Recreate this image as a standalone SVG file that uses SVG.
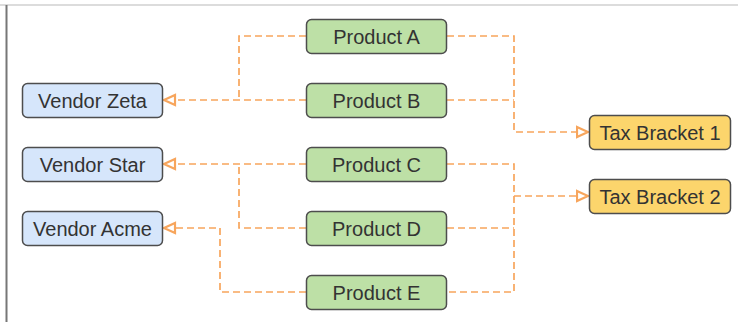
<svg xmlns="http://www.w3.org/2000/svg" width="738" height="322" viewBox="0 0 738 322">
<style>
.node rect{stroke:#4d4d4d;stroke-width:1.5}
.vendor rect{fill:#d6e6fb}
.product rect{fill:#bde0a6}
.tax rect{fill:#fcd56c}
.node text{font-family:"Liberation Sans",Arial,sans-serif;font-size:20px;fill:#333;text-anchor:middle;dominant-baseline:central}
.conn path{fill:none;stroke:#f7a55c;stroke-width:1.7;stroke-dasharray:7 4}
</style>
<defs>
<marker id="tri" viewBox="0 0 14 14" refX="12.5" refY="7" markerWidth="14" markerHeight="14" markerUnits="userSpaceOnUse" orient="auto">
<path d="M1.5,2 L12.5,7 L1.5,12 Z" fill="#fff" stroke="#f7a55c" stroke-width="2.2" stroke-dasharray="none"/>
</marker>
</defs>
<rect width="738" height="322" fill="#fff"/>
<line x1="0" y1="5" x2="738" y2="5" stroke="#d0d0d0" stroke-width="1.5"/>
<line x1="6.5" y1="5" x2="6.5" y2="322" stroke="#777" stroke-width="2"/>
<g class="conn">
<path d="M306,36 H239 V100"/>
<path d="M306,100 H164" marker-end="url(#tri)"/>
<path d="M306,164 H164" marker-end="url(#tri)"/>
<path d="M306,228 H239 V164"/>
<path d="M306,292 H220 V228 H164" marker-end="url(#tri)"/>
<path d="M447,36 H514 V132 H588" marker-end="url(#tri)"/>
<path d="M447,100 H514"/>
<path d="M447,164 H514 V292 H447"/>
<path d="M447,228 H514"/>
<path d="M514,196 H588" marker-end="url(#tri)"/>
</g>
<g id="vendor-zeta" class="node vendor"><rect x="22.5" y="83.5" width="140" height="34" rx="5"/><text x="92.5" y="100.5">Vendor Zeta</text></g>
<g id="vendor-star" class="node vendor"><rect x="22.5" y="147.5" width="140" height="34" rx="5"/><text x="92.5" y="164.5">Vendor Star</text></g>
<g id="vendor-acme" class="node vendor"><rect x="22.5" y="211.5" width="140" height="34" rx="5"/><text x="92.5" y="228.5">Vendor Acme</text></g>
<g id="product-a" class="node product"><rect x="306.5" y="19.5" width="140" height="34" rx="5"/><text x="376.5" y="36.5">Product A</text></g>
<g id="product-b" class="node product"><rect x="306.5" y="83.5" width="140" height="34" rx="5"/><text x="376.5" y="100.5">Product B</text></g>
<g id="product-c" class="node product"><rect x="306.5" y="147.5" width="140" height="34" rx="5"/><text x="376.5" y="164.5">Product C</text></g>
<g id="product-d" class="node product"><rect x="306.5" y="211.5" width="140" height="34" rx="5"/><text x="376.5" y="228.5">Product D</text></g>
<g id="product-e" class="node product"><rect x="306.5" y="275.5" width="140" height="34" rx="5"/><text x="376.5" y="292.5">Product E</text></g>
<g id="tax-1" class="node tax"><rect x="589.5" y="115.5" width="141" height="34" rx="5"/><text x="660" y="132.5">Tax Bracket 1</text></g>
<g id="tax-2" class="node tax"><rect x="589.5" y="179.5" width="141" height="34" rx="5"/><text x="660" y="196.5">Tax Bracket 2</text></g>
</svg>
